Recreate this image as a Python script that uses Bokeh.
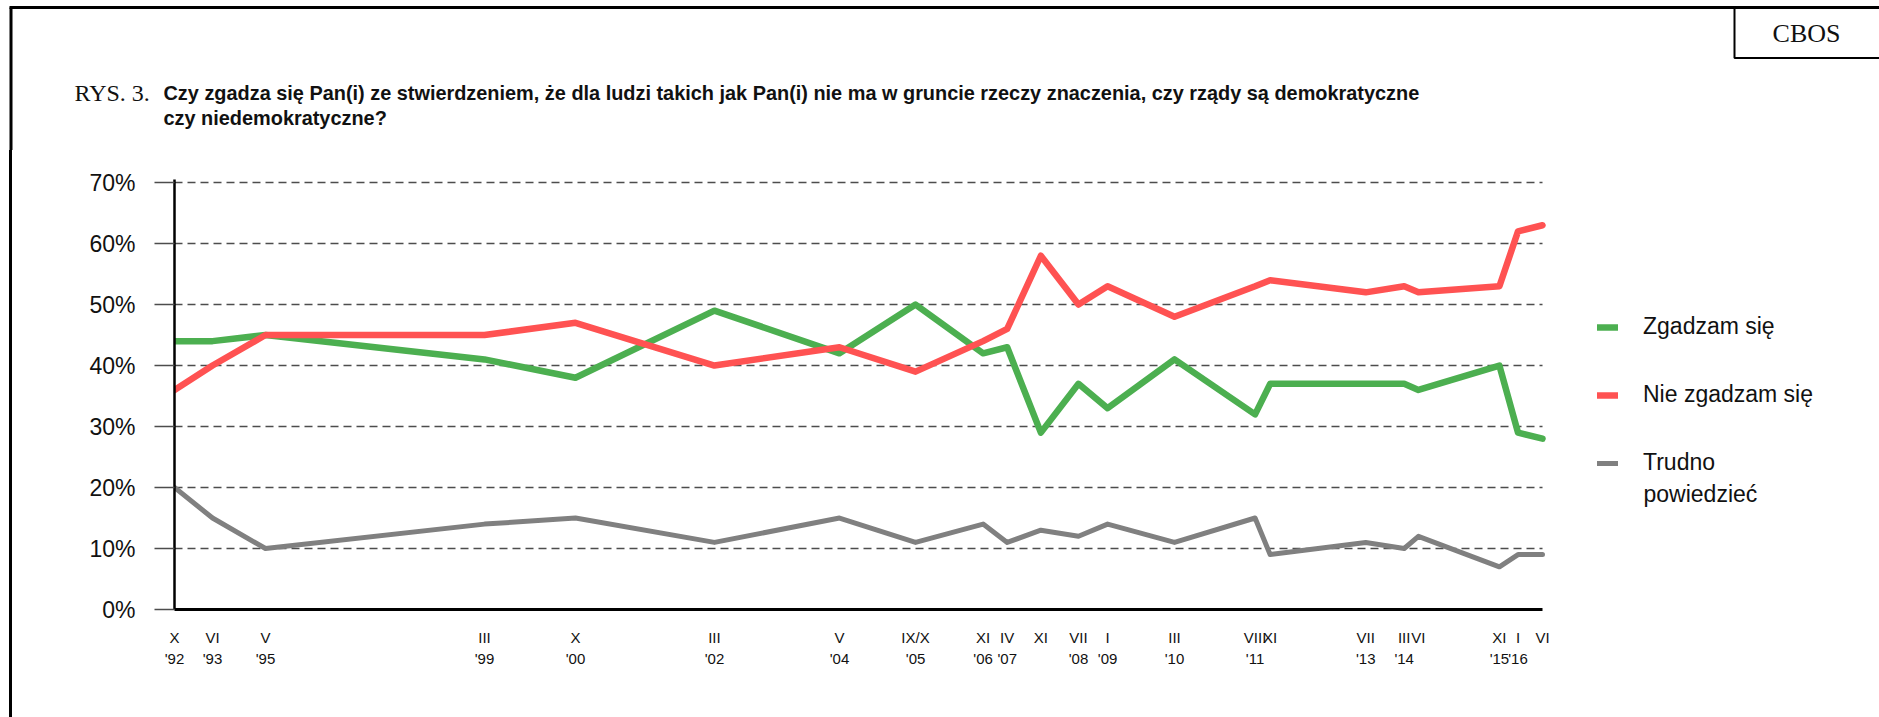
from bokeh.plotting import figure
from bokeh.layouts import column, row
from bokeh.models import (Range1d, FixedTicker, Legend, LegendItem, Label, Spacer,
                          PrintfTickFormatter)
from bokeh.core.properties import value
from bokeh.embed import file_html
from bokeh.resources import INLINE

# ---- data ----
months = ["X", "VI", "V", "III", "X", "III", "V", "IX/X", "XI", "IV", "XI",
          "VII", "I", "III", "VIII", "XI", "VII", "III", "VI", "XI", "I", "VI"]
years = ["'92", "'93", "'95", "'99", "'00", "'02", "'04", "'05", "'06", "'07", "",
         "'08", "'09", "'10", "'11", "", "'13", "'14", "", "'15", "'16", ""]
# position of each survey along the horizontal axis (0 = first, 100 = last)
survey_pos = [0, 2.78, 6.65, 22.66, 29.31, 39.47, 48.61, 54.17, 59.11, 60.87, 63.33,
              66.08, 68.21, 73.10, 78.99, 80.09, 87.08, 89.89, 90.93, 96.85, 98.21, 100]
agree = [44, 44, 45, 41, 38, 49, 42, 50, 42, 43, 29, 37, 33, 41, 32, 37, 37, 37, 36, 40, 29, 28]
disagree = [36, 40, 45, 45, 47, 40, 43, 39, 44, 46, 58, 50, 53, 48, 53, 54, 52, 53, 52, 53, 62, 63]
hard_to_say = [20, 15, 10, 14, 15, 11, 15, 11, 14, 11, 13, 12, 14, 11, 15, 9, 11, 10, 12, 7, 9, 9]
y_ticks = [0, 10, 20, 30, 40, 50, 60, 70]

series_names = ["Zgadzam się", "Nie zgadzam się", "Trudno"]
series_name_cont = "powiedzieć"
title_prefix = "RYS. 3."
title_line1 = ("Czy zgadza się Pan(i) ze stwierdzeniem, że dla ludzi takich jak Pan(i) "
               "nie ma w gruncie rzeczy znaczenia, czy rządy są demokratyczne")
title_line2 = "czy niedemokratyczne?"
source = "CBOS"

GREEN = "#4CAF50"
RED = "#FF5252"
GRAY = "#808080"
INK = "#111111"
GRID = "#4d4d4d"

W, H = 1879, 717
H1 = 150            # header height
H2 = H - H1         # chart row height
PAD, BORDER = 9, 3  # page frame line on the left


# ---------- header ----------
hd = figure(width=W, height=H1, x_range=Range1d(0, W), y_range=Range1d(H1, 0),
            x_axis_type=None, y_axis_type=None,
            output_backend="svg", toolbar_location=None,
            min_border=0, min_border_left=0, min_border_right=0,
            min_border_top=0, min_border_bottom=0)
hd.outline_line_color = None
hd.xgrid.visible = False
hd.ygrid.visible = False
hd.line([9, W], [7, 7], line_color="black", line_width=3)
hd.line([10.5, 10.5], [7, H1], line_color="black", line_width=3)
hd.line([1734, 1734, W], [7, 57.5, 57.5], line_color="black", line_width=2)
hd.text(x=[1806], y=[33], text=[source], text_font=value("Liberation Serif"),
        text_font_size="26px", text_color=INK, text_align="center",
        text_baseline="middle")
hd.text(x=[74], y=[92], text=[title_prefix], text_font=value("Liberation Serif"),
        text_font_size="24px", text_color=INK, text_baseline="middle")
hd.text(x=[163, 163], y=[92, 117], text=[title_line1, title_line2],
        text_font=value("Liberation Sans"), text_font_style="bold",
        text_font_size="19.9px", text_color=INK, text_baseline="middle")

# ---------- chart ----------
MW = W - PAD - BORDER
FL, FT, FB = 174 - PAD - BORDER, 29, 108
PX_PER_UNIT = 13.68
x_end = (MW - FL) / PX_PER_UNIT
p = figure(width=MW, height=H2, x_range=Range1d(0, x_end), y_range=Range1d(0, 70.5),
           output_backend="svg", toolbar_location=None,
           min_border_left=FL, min_border_right=0, min_border_top=FT,
           min_border_bottom=FB)
p.outline_line_color = None

p.xgrid.visible = False
yg = p.ygrid[0]
if "cross_bounds" in yg.properties():
    yg.ticker = FixedTicker(ticks=y_ticks[1:])
    yg.cross_bounds = (survey_pos[0], survey_pos[-1])
    yg.grid_line_color = GRID
    yg.grid_line_width = 1.5
    yg.grid_line_dash = "8 5"
else:
    yg.visible = False
    p.segment(x0=[survey_pos[0]] * (len(y_ticks) - 1), x1=[survey_pos[-1]] * (len(y_ticks) - 1),
              y0=y_ticks[1:], y1=y_ticks[1:], line_color=GRID, line_width=1.5,
              line_dash="8 5", level="underlay")

ya = p.yaxis[0]
ya.ticker = FixedTicker(ticks=y_ticks)
ya.formatter = PrintfTickFormatter(format="%d%%")
ya.axis_line_color = "black"
ya.axis_line_width = 2.5
ya.major_tick_out = 20
ya.major_tick_in = 0
ya.major_tick_line_color = GRID
ya.major_tick_line_width = 1.5
ya.minor_tick_line_color = None
ya.major_label_text_font = "Liberation Sans"
ya.major_label_text_font_size = "23px"
ya.major_label_text_color = INK
ya.major_label_standoff = 19

xa = p.xaxis[0]
xa.ticker = FixedTicker(ticks=survey_pos)
xa.bounds = (survey_pos[0], survey_pos[-1])
xa.major_label_overrides = {pos: (m + ("\n" + y if y else ""))
                            for pos, m, y in zip(survey_pos, months, years)}
xa.axis_line_color = "black"
xa.axis_line_width = 3
xa.major_tick_out = 0
xa.major_tick_in = 0
xa.minor_tick_line_color = None
xa.major_label_text_font = "Liberation Sans"
xa.major_label_text_font_size = "15px"
xa.major_label_text_line_height = 1.25
xa.major_label_text_color = INK
xa.major_label_standoff = 19

r_g = p.line(survey_pos, agree, line_color=GREEN, line_width=6.5,
             line_cap="round", line_join="round")
r_r = p.line(survey_pos, disagree, line_color=RED, line_width=6.5,
             line_cap="round", line_join="round")
r_k = p.line(survey_pos, hard_to_say, line_color=GRAY, line_width=5,
             line_cap="round", line_join="round")

legend = Legend(items=[LegendItem(label=series_names[0], renderers=[r_g]),
                       LegendItem(label=series_names[1], renderers=[r_r]),
                       LegendItem(label=series_names[2], renderers=[r_k])],
                location=(1423, 133), orientation="vertical",
                glyph_width=21, glyph_height=20, label_height=20,
                label_standoff=25, spacing=41, padding=0, margin=0,
                border_line_color=None, background_fill_alpha=0,
                label_text_font="Liberation Sans", label_text_font_size="23px",
                label_text_color=INK)
p.add_layout(legend)

# second line of the third legend entry
p.add_layout(Label(x=1469 / PX_PER_UNIT, y=18.9, text=series_name_cont,
                   text_font="Liberation Sans", text_font_size="23px",
                   text_color=INK, text_baseline="middle"))

left_line = Spacer(width=BORDER, height=H2, styles={"background-color": "black"})
layout = column(hd, row(Spacer(width=PAD, height=H2), left_line, p, spacing=0), spacing=0)

open("out.html", "w").write(file_html(layout, INLINE))
